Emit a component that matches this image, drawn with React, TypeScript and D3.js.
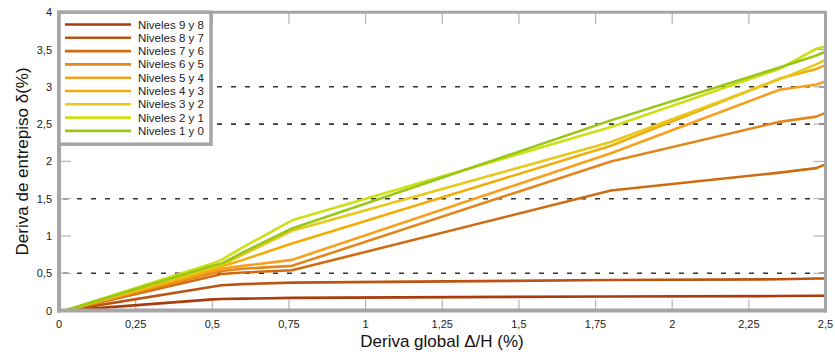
import React from "react";
import * as d3 from "d3";

// Global drift (%) sample points shared by every storey pair
const globalDrift = [0.02, 0.5, 0.53, 0.6, 0.76, 1.8, 2.35, 2.47, 2.5];

// Inter-storey drift (%) for each pair of levels
const niveles9y8 = [0, 0.15, 0.155, 0.16, 0.17, 0.19, 0.195, 0.2, 0.2];
const niveles8y7 = [0, 0.32, 0.34, 0.355, 0.375, 0.41, 0.42, 0.43, 0.43];
const niveles7y6 = [0, 0.46, 0.49, 0.51, 0.54, 1.61, 1.85, 1.91, 1.96];
const niveles6y5 = [0, 0.5, 0.53, 0.56, 0.6, 2.0, 2.53, 2.6, 2.65];
const niveles5y4 = [0, 0.53, 0.56, 0.6, 0.68, 2.11, 2.96, 3.03, 3.07];
const niveles4y3 = [0, 0.55, 0.59, 0.68, 0.9, 2.21, 3.11, 3.24, 3.29];
const niveles3y2 = [0, 0.57, 0.61, 0.75, 1.07, 2.26, 3.1, 3.3, 3.36];
const niveles2y1 = [0, 0.63, 0.68, 0.85, 1.21, 2.46, 3.24, 3.51, 3.54];
const niveles1y0 = [0, 0.6, 0.63, 0.78, 1.1, 2.55, 3.26, 3.42, 3.47];

const seriesNames = [
  "Niveles 9 y 8",
  "Niveles 8 y 7",
  "Niveles 7 y 6",
  "Niveles 6 y 5",
  "Niveles 5 y 4",
  "Niveles 4 y 3",
  "Niveles 3 y 2",
  "Niveles 2 y 1",
  "Niveles 1 y 0",
];
const seriesValues = [
  niveles9y8,
  niveles8y7,
  niveles7y6,
  niveles6y5,
  niveles5y4,
  niveles4y3,
  niveles3y2,
  niveles2y1,
  niveles1y0,
];
const seriesColors = [
  "#a83c0c",
  "#bb5410",
  "#cf6c12",
  "#e3861e",
  "#f89f1c",
  "#f2ad08",
  "#e8c81a",
  "#cce014",
  "#98c814",
];

const xTicks = [0, 0.25, 0.5, 0.75, 1, 1.25, 1.5, 1.75, 2, 2.25, 2.5];
const yTicks = [0, 0.5, 1, 1.5, 2, 2.5, 3, 3.5, 4];
const yGridLevels = [0.5, 1.5, 2.5, 3];

const W = 835;
const H = 355;
const left = 59;
const right = 825.5;
const top = 12.2;
const bottom = 310.6;

const fmt = (v: number) => String(v).replace(".", ",");
const FONT = "'Liberation Sans', Arial, sans-serif";

export default function App() {
  const x = d3.scaleLinear().domain([0, 2.5]).range([left, right]);
  const y = d3.scaleLinear().domain([0, 4]).range([bottom, top]);
  const line = d3
    .line<number>()
    .x((_, i) => x(globalDrift[i]))
    .y((d) => y(d));

  const frameColor = "#a6a6a6";
  const tickColor = "#b4b4b4";

  const legendX = left;
  const legendY = top;
  const legendW = 152;
  const legendH = 132;
  const rowH = 13.3;

  return (
    <svg
      width={W}
      height={H}
      style={{ position: "absolute", left: 0, top: 0, background: "#fff" }}
      fontFamily={FONT}
    >
      {/* dashed reference levels */}
      {yGridLevels.map((v) => (
        <line
          key={"g" + v}
          x1={left}
          x2={right}
          y1={y(v)}
          y2={y(v)}
          stroke="#333"
          strokeWidth={1.6}
          strokeDasharray="5,9"
          strokeDashoffset={-4}
        />
      ))}

      {/* inward ticks on all four sides */}
      {xTicks.map((t) => (
        <g key={"xt" + t}>
          <line x1={x(t)} x2={x(t)} y1={bottom} y2={bottom - 11} stroke={tickColor} strokeWidth={1.2} />
          <line x1={x(t)} x2={x(t)} y1={top} y2={top + 12} stroke={tickColor} strokeWidth={1.2} />
        </g>
      ))}
      {yTicks.map((t) => (
        <g key={"yt" + t}>
          <line x1={left} x2={left + 12} y1={y(t)} y2={y(t)} stroke={tickColor} strokeWidth={1.2} />
          <line x1={right} x2={right - 12} y1={y(t)} y2={y(t)} stroke={tickColor} strokeWidth={1.2} />
        </g>
      ))}

      {/* data lines */}
      {seriesValues.map((vals, i) => (
        <path
          key={seriesNames[i]}
          d={line(vals) || ""}
          fill="none"
          stroke={seriesColors[i]}
          strokeWidth={2.6}
          strokeLinejoin="round"
        />
      ))}

      {/* plot frame */}
      <line x1={left} x2={right + 1.5} y1={top} y2={top} stroke={frameColor} strokeWidth={3} />
      <line x1={right} x2={right} y1={top} y2={bottom + 2} stroke={frameColor} strokeWidth={3} />
      <line x1={left} x2={left} y1={top - 1.5} y2={bottom + 2} stroke={frameColor} strokeWidth={4} />
      <line x1={left - 2} x2={right + 1.5} y1={bottom} y2={bottom} stroke={frameColor} strokeWidth={4} />

      {/* legend */}
      <rect
        x={legendX}
        y={legendY}
        width={legendW}
        height={legendH}
        fill="#fff"
        stroke={frameColor}
        strokeWidth={3.5}
      />
      {seriesNames.map((name, i) => {
        const cy = legendY + 12.3 + i * rowH;
        return (
          <g key={"lg" + name}>
            <line x1={legendX + 6} x2={legendX + 72} y1={cy} y2={cy} stroke={seriesColors[i]} strokeWidth={2.6} />
            <text x={legendX + 79} y={cy + 4} fontSize={11.5} fill="#222">
              {name}
            </text>
          </g>
        );
      })}

      {/* tick labels */}
      {xTicks.map((t) => (
        <text key={"xl" + t} x={x(t)} y={328} fontSize={11} fill="#222" textAnchor="middle">
          {fmt(t)}
        </text>
      ))}
      {yTicks.map((t) => (
        <text key={"yl" + t} x={52} y={y(t) + 4} fontSize={11} fill="#222" textAnchor="end">
          {fmt(t)}
        </text>
      ))}

      {/* axis titles */}
      <text x={442} y={347} fontSize={17} fill="#111" textAnchor="middle">
        Deriva global Δ/H (%)
      </text>
      <text
        transform={`translate(28,${(top + bottom) / 2}) rotate(-90)`}
        fontSize={17}
        fill="#111"
        textAnchor="middle"
      >
        Deriva de entrepiso δ(%)
      </text>
    </svg>
  );
}
